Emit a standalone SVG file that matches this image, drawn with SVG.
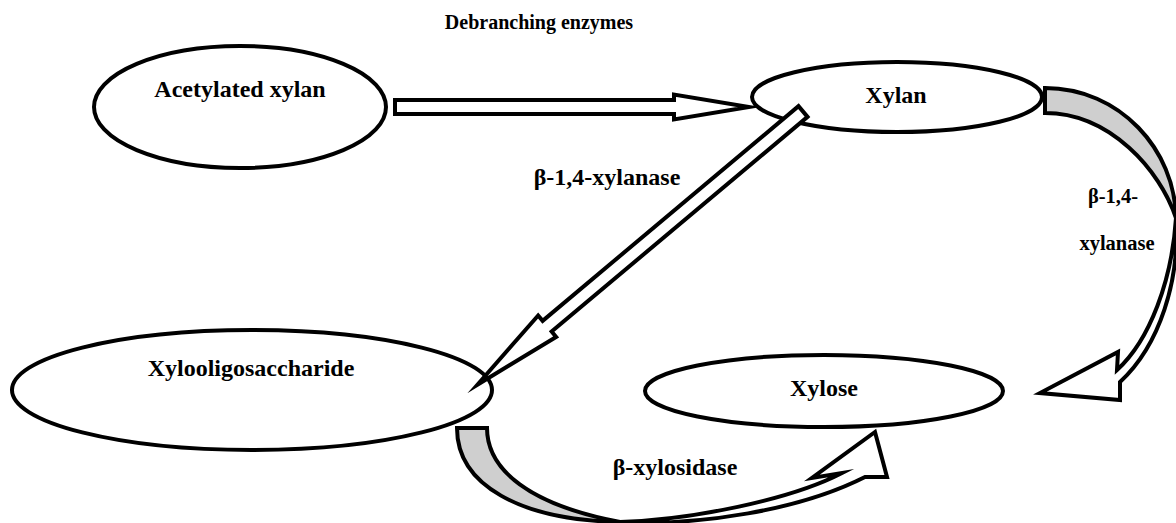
<svg xmlns="http://www.w3.org/2000/svg" width="1176" height="523" viewBox="0 0 1176 523">
  <style>
    .shape { fill: #ffffff; stroke: #000000; stroke-width: 4; stroke-linejoin: miter; stroke-miterlimit: 10; }
    .back { fill: #cfcfcf; stroke: #000000; stroke-width: 4; stroke-linejoin: miter; }
    .lbl { font-family: "Liberation Serif", "Times New Roman", serif; font-weight: bold; fill: #000000; text-anchor: middle; }
    .big { font-size: 24px; }
    .mid { font-size: 20.5px; }
    .small { font-size: 20px; }
  </style>
  <rect width="1176" height="523" fill="#ffffff"/>

  <text class="lbl small" x="539" y="29">Debranching enzymes</text>

  <g id="node-acetylated-xylan">
    <ellipse class="shape" cx="240" cy="107" rx="146" ry="61"/>
    <text class="lbl big" x="240" y="97">Acetylated xylan</text>
  </g>
  <g id="node-xylan">
    <ellipse class="shape" cx="897" cy="97" rx="145" ry="35"/>
    <text class="lbl big" x="896" y="103">Xylan</text>
  </g>
  <g id="node-xylooligosaccharide">
    <ellipse class="shape" cx="252" cy="390" rx="240" ry="60"/>
    <text class="lbl big" x="251" y="376">Xylooligosaccharide</text>
  </g>
  <g id="node-xylose">
    <ellipse class="shape" cx="824" cy="391" rx="179" ry="36"/>
    <text class="lbl big" x="824" y="396">Xylose</text>
  </g>

  <g id="connectors">
    <polygon class="shape" points="395,100 674,100 674,94.5 749,107 674,119.5 674,114 395,114"/>
    <polygon class="shape" transform="translate(803,111.5) rotate(140)" points="0,-7 334,-7 334,-14 425,0 334,14 334,7 0,7"/>
    <path class="back" d="M1045,88 C1120,88 1175,150 1176,218 C1160,170 1110,113 1045,113 Z"/>
    <path class="shape" d="M1176,218 C1172,280 1150,340 1117,370 L1118,352 L1040,393 L1120,400 L1120,382 C1160,345 1180,280 1176,218 Z"/>
    <path class="back" d="M457,428 L487,428 C487,470 530,505 620,522 C520,520 457,485 457,428 Z"/>
    <path class="shape" d="M620,522 C690,520 790,500 842,473 L812,478 L875,432 L887,477 L865,477 C800,510 700,526 620,522 Z"/>
    <text class="lbl big" x="607" y="185">β-1,4-xylanase</text>
    <text class="lbl mid" x="1113" y="203">β-1,4-</text>
    <text class="lbl mid" x="1117" y="250">xylanase</text>
    <text class="lbl big" x="675" y="475">β-xylosidase</text>
  </g>
</svg>
